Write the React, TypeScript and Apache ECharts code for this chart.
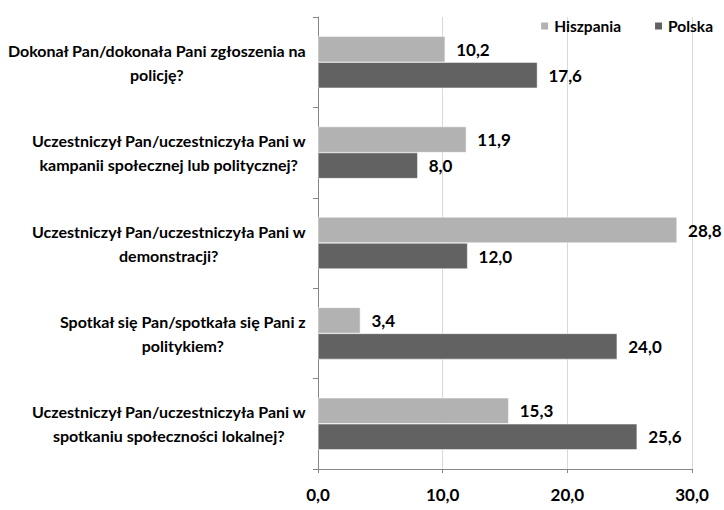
import React, { useEffect, useRef } from "react";
import * as echarts from "echarts";

const categories: string[] = [
  "Dokonał Pan/dokonała Pani zgłoszenia na\npolicję?",
  "Uczestniczył Pan/uczestniczyła Pani w\nkampanii społecznej lub politycznej?",
  "Uczestniczył Pan/uczestniczyła Pani w\ndemonstracji?",
  "Spotkał się Pan/spotkała się Pani z\npolitykiem?",
  "Uczestniczył Pan/uczestniczyła Pani w\nspotkaniu społeczności lokalnej?",
];
const hiszpania: number[] = [10.2, 11.9, 28.8, 3.4, 15.3];
const polska: number[] = [17.6, 8.0, 12.0, 24.0, 25.6];
const seriesNames: string[] = ["Hiszpania", "Polska"];

const FONT = 'Lato, "DejaVu Sans Condensed", sans-serif';
const fmt = (v: number) => v.toFixed(1).replace(".", ",");

export default function App() {
  const ref = useRef<HTMLDivElement>(null);
  useEffect(() => {
    if (!ref.current) return;
    const chart = echarts.init(ref.current, undefined, { renderer: "svg" });
    const labelStyle = {
      show: true,
      position: "right" as const,
      distance: 11,
      formatter: (p: any) => fmt(p.value),
      color: "#000",
      fontFamily: FONT,
      fontWeight: "bold" as const,
      fontSize: 17,
    };
    chart.setOption({
      animation: false,
      backgroundColor: "#fff",
      grid: { left: 318, right: 32, top: 17, bottom: 41, outerBoundsMode: "none", containLabel: false },
      legend: {
        top: 13,
        right: 6,
        itemWidth: 9,
        itemHeight: 9,
        itemGap: 32,
        icon: "rect",
        textStyle: { fontFamily: FONT, fontWeight: "bold", fontSize: 15.5, color: "#000" },
        data: seriesNames,
      },
      xAxis: {
        type: "value",
        min: 0,
        max: 30,
        interval: 10,
        axisLine: { show: true, lineStyle: { color: "#868686" } },
        axisTick: { show: true, length: 4, lineStyle: { color: "#868686" } },
        splitLine: { show: true, lineStyle: { color: "#d9d9d9" } },
        axisLabel: {
          margin: 17,
          formatter: (v: number) => fmt(v),
          fontFamily: FONT,
          fontWeight: "bold",
          fontSize: 17,
          color: "#000",
        },
      },
      yAxis: {
        type: "category",
        inverse: true,
        data: categories,
        axisLine: { show: true, lineStyle: { color: "#868686" } },
        axisTick: { show: true, length: 5, lineStyle: { color: "#868686" } },
        axisLabel: {
          margin: 12,
          align: "right",
          lineHeight: 24,
          formatter: (v: string) =>
            v
              .split("\n")
              .map((l) => `{c|${l}}`)
              .join("\n"),
          rich: {
            c: {
              align: "center",
              fontFamily: FONT,
              fontWeight: "bold",
              fontSize: 16,
              color: "#000",
              lineHeight: 24,
            },
          },
        },
      },
      series: [
        {
          name: seriesNames[0],
          type: "bar",
          data: hiszpania,
          barWidth: 26,
          barGap: "0%",
          itemStyle: { color: "#b2b2b2", borderColor: "#fff", borderWidth: 0.5 },
          label: labelStyle,
        },
        {
          name: seriesNames[1],
          type: "bar",
          data: polska,
          barWidth: 26,
          barGap: "0%",
          itemStyle: { color: "#626262", borderColor: "#fff", borderWidth: 0.5 },
          label: labelStyle,
        },
      ],
    });
    return () => chart.dispose();
  }, []);
  return <div ref={ref} style={{ width: 724, height: 510, position: "absolute", left: 0, top: 0 }} />;
}
